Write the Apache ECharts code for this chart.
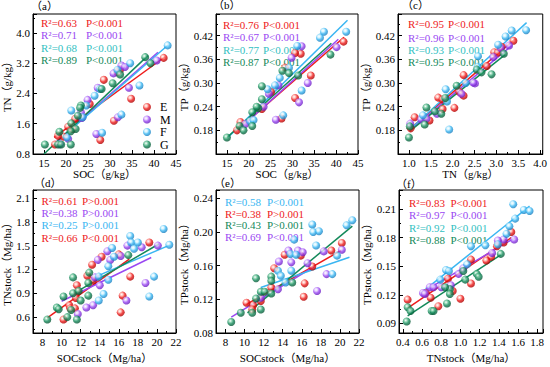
<!DOCTYPE html>
<html><head><meta charset="utf-8">
<script src="https://cdn.jsdelivr.net/npm/echarts@6/dist/echarts.min.js"></script>
<style>html,body{margin:0;padding:0;background:#fff}#c{width:550px;height:367px}</style>
</head><body><div id="c"></div>
<script>
// ---------------- DATA ----------------
const groups = ['E','M','F','G'];
// (a) SOC vs TN
const aE = [[42.2,3.34],[32.3,3.03],[31.7,2.96],[28.6,2.76],[25.4,2.12],[34.8,2.26],[30.9,1.68],[27.8,1.17],[22.1,1.73],[21.5,1.46],[20.5,1.52],[19.4,1.26],[18.2,1.28],[17.5,1.05]];
const aM = [[40.6,3.27],[32.6,3.14],[33.4,3.10],[30.8,2.93],[27.2,2.55],[34.3,2.55],[24.9,2.23],[23.4,1.90],[23.6,1.75],[31.8,1.77],[26.9,1.33],[20.5,1.20],[18.6,1.06]];
const aF = [[43.1,3.67],[34.6,3.20],[31.7,3.02],[26.5,2.34],[27.7,2.52],[36.7,2.61],[24.6,2.08],[21.2,1.95],[23.8,1.77],[32.6,1.84],[20.2,1.24],[28.2,1.36]];
const aG = [[38.0,3.36],[39.2,3.20],[32.3,2.90],[30.6,2.67],[28.1,2.52],[23.4,2.08],[23.2,2.02],[22.7,1.81],[21.2,1.61],[22.2,1.46],[21.1,1.40],[18.5,1.39],[15.2,1.05],[18.2,1.05],[18.9,1.05],[21.1,1.05]];
const aLineE = [[17.3,1.24],[42.5,3.37]];
const aLineM = [[17.8,1.12],[40.9,3.49]];
const aLineF = [[18.2,1.15],[43.2,3.68]];
const aLineG = [[15.0,0.80],[38.6,3.40]];
// (b) SOC vs TP
const bE = [[41.7,0.405],[31.9,0.374],[30.6,0.376],[28.3,0.339],[34.2,0.319],[25.1,0.277],[30.6,0.262],[23.0,0.234],[18.1,0.201],[27.5,0.210],[17.3,0.180]];
const bM = [[40.1,0.391],[32.1,0.393],[29.8,0.364],[26.8,0.294],[33.5,0.300],[24.6,0.273],[31.5,0.251],[23.4,0.240],[26.2,0.207],[19.2,0.196]];
const bF = [[42.3,0.430],[37.2,0.430],[36.3,0.415],[31.1,0.394],[29.2,0.339],[27.1,0.313],[26.0,0.294],[24.3,0.284],[32.1,0.281],[20.3,0.203],[21.1,0.206],[27.9,0.218]];
const bG = [[38.7,0.372],[27.7,0.331],[29.2,0.325],[31.3,0.319],[23.0,0.292],[23.0,0.259],[22.2,0.236],[21.8,0.240],[20.8,0.226],[20.8,0.191],[17.9,0.191],[18.8,0.180],[15.0,0.162]];
const bLineE = [[17.0,0.177],[41.8,0.416]];
const bLineM = [[17.5,0.180],[40.5,0.411]];
const bLineF = [[15.4,0.164],[42.6,0.459]];
const bLineG = [[15.0,0.162],[38.9,0.401]];
// (c) TN vs TP
const cE = [[3.39,0.407],[3.12,0.392],[2.95,0.378],[3.03,0.377],[2.78,0.343],[2.25,0.320],[2.15,0.278],[2.25,0.268],[1.67,0.263],[1.77,0.258],[2.04,0.237],[1.77,0.234],[1.47,0.205],[1.13,0.213],[1.04,0.185]];
const cM = [[3.29,0.395],[3.10,0.388],[2.93,0.366],[2.51,0.299],[2.47,0.301],[2.20,0.273],[1.64,0.222],[1.28,0.208],[1.03,0.197],[1.40,0.210]];
const cF = [[3.68,0.434],[3.35,0.433],[3.21,0.418],[3.04,0.397],[2.58,0.368],[2.57,0.341],[1.84,0.284],[1.87,0.253],[1.32,0.218],[1.92,0.182],[2.30,0.300]];
const cG = [[3.17,0.374],[2.89,0.322],[2.55,0.334],[2.66,0.327],[2.09,0.293],[1.83,0.262],[1.40,0.238],[1.74,0.222],[1.59,0.228],[1.36,0.195],[1.02,0.190],[1.00,0.162]];
const cLineE = [[1.02,0.183],[3.43,0.412]];
const cLineM = [[1.02,0.180],[3.35,0.395]];
const cLineF = [[1.02,0.182],[3.69,0.453]];
const cLineG = [[1.02,0.178],[3.20,0.372]];
// (d) SOCstock vs TNstock
const dE = [[19.2,1.54],[16.0,1.39],[14.2,1.36],[13.2,1.26],[12.7,1.12],[13.3,1.06],[17.2,1.11],[11.6,1.00],[11.7,0.92],[11.5,0.84],[10.8,0.75],[10.9,0.71],[11.4,0.71],[10.2,0.57],[16.4,0.87],[16.2,0.66]];
const dM = [[20.1,1.50],[18.4,1.48],[16.9,1.50],[16.2,1.37],[15.1,1.32],[14.8,1.43],[13.8,1.32],[13.5,1.10],[14.0,1.00],[13.3,0.75],[12.6,0.72],[11.7,0.64],[16.8,0.81],[18.8,1.03]];
const dF = [[20.7,1.71],[21.3,1.51],[17.2,1.62],[17.3,1.54],[18.0,1.54],[17.6,1.46],[15.3,1.47],[15.5,1.36],[14.9,1.24],[14.9,1.07],[13.9,1.11],[13.9,0.81],[14.4,0.89],[19.7,1.11],[19.2,0.86]];
const dG = [[8.5,0.57],[9.5,0.72],[9.7,0.70],[10.2,0.86],[10.6,0.60],[11.0,0.69],[11.2,0.90],[11.2,1.10],[11.6,0.57],[11.8,0.93],[12.0,0.81],[12.8,0.87],[12.8,1.03],[12.9,1.16],[17.0,1.38]];
const dLineE = [[8.5,0.59],[17.1,1.33]];
const dLineM = [[10.0,0.80],[19.4,1.35]];
const dLineF = [[13.6,1.11],[21.4,1.51]];
const dLineG = [[11.6,0.92],[20.2,1.52]];
// (e) SOCstock vs TPstock
const eE = [[20.2,0.187],[15.9,0.172],[14.2,0.173],[13.1,0.157],[17.1,0.159],[16.3,0.139],[16.2,0.123],[12.8,0.134],[11.7,0.118],[10.9,0.113],[10.2,0.116],[10.8,0.108],[19.1,0.178]];
const eM = [[20.2,0.179],[18.3,0.177],[15.6,0.178],[16.1,0.176],[14.6,0.178],[13.6,0.165],[14.9,0.164],[18.6,0.150],[17.6,0.130],[13.5,0.132],[11.7,0.122],[16.6,0.163]];
const eF = [[21.3,0.214],[20.7,0.208],[17.1,0.209],[17.2,0.200],[17.8,0.201],[15.2,0.191],[19.7,0.172],[17.5,0.184],[14.8,0.174],[15.4,0.173],[13.5,0.154],[14.9,0.154],[13.8,0.148],[14.3,0.140],[19.2,0.150]];
const eG = [[12.8,0.147],[12.8,0.142],[15.0,0.140],[11.2,0.145],[11.7,0.129],[12.1,0.129],[12.8,0.127],[11.2,0.121],[11.7,0.108],[10.8,0.104],[9.6,0.104],[8.6,0.093]];
const eLineE = [[10.2,0.114],[20.1,0.178]];
const eLineM = [[8.6,0.099],[17.3,0.159]];
const eLineF = [[11.7,0.134],[21.0,0.170]];
const eLineG = [[10.3,0.104],[21.3,0.207]];
// (f) TNstock vs TPstock
const fE = [[1.53,0.186],[1.38,0.171],[1.32,0.160],[1.27,0.156],[1.11,0.157],[0.87,0.137],[1.11,0.132],[0.92,0.124],[1.00,0.116],[0.64,0.122],[0.69,0.117],[0.45,0.115],[0.77,0.108],[1.45,0.175]];
const fM = [[1.56,0.178],[1.45,0.178],[1.39,0.177],[1.33,0.164],[1.03,0.148],[0.98,0.142],[0.90,0.130],[0.68,0.128],[0.72,0.128],[0.80,0.128],[0.61,0.122],[0.63,0.121]];
const fF = [[1.55,0.215],[1.57,0.200],[1.66,0.209],[1.72,0.208],[1.51,0.192],[1.48,0.184],[1.39,0.173],[1.26,0.172],[1.11,0.171],[1.07,0.152],[0.85,0.146],[0.88,0.145],[0.79,0.136]];
const fG = [[1.42,0.163],[1.17,0.142],[1.19,0.139],[1.05,0.136],[0.89,0.126],[0.89,0.121],[0.84,0.128],[0.70,0.103],[0.72,0.103],[0.86,0.111],[0.45,0.107],[0.48,0.103],[0.44,0.092],[1.03,0.145]];
const fLineE = [[0.45,0.106],[1.53,0.180]];
const fLineM = [[0.59,0.122],[1.57,0.180]];
const fLineF = [[0.59,0.122],[1.72,0.213]];
const fLineG = [[0.45,0.098],[1.42,0.162]];

// texts
const panelLabels = ['（a）','（b）','（c）','（d）','（e）','（f）'];
const xNames = ['SOC（g/kg）','SOC（g/kg）','TN（g/kg）','SOCstock（Mg/ha）','SOCstock（Mg/ha）','TNstock（Mg/ha）'];
const yNames = ['TN（g/kg）','TP（g/kg）','TP（g/kg）','TNstock（Mg/ha）','TPstock（Mg/ha）','TPstock（Mg/ha）'];
const statsA = [['R²=0.63','P<0.001'],['R²=0.71','P<0.001'],['R²=0.68','P<0.001'],['R²=0.89','P<0.001']];
const statsB = [['R²=0.76','P<0.001'],['R²=0.67','P<0.001'],['R²=0.77','P<0.001'],['R²=0.87','P<0.001']];
const statsC = [['R²=0.95','P<0.001'],['R²=0.96','P<0.001'],['R²=0.93','P<0.001'],['R²=0.95','P<0.001']];
const statsD = [['R²=0.61','P>0.001'],['R²=0.38','P>0.001'],['R²=0.25','P>0.001'],['R²=0.66','P<0.001']];
const statsE = [['R²=0.58','P<0.001'],['R²=0.38','P>0.001'],['R²=0.43','P>0.001'],['R²=0.69','P<0.001']];
const statsF = [['R²=0.83','P<0.001'],['R²=0.97','P<0.001'],['R²=0.92','P<0.001'],['R²=0.88','P<0.001']];

// ---------------- STYLE ----------------
const FONT = '"Liberation Serif", "Noto Sans CJK SC", serif';
const COL = {E:'#ee1b1b', M:'#9a48f2', F:'#3ab6f2', G:'#13895a'};
const LIGHT = {E:'#ffb0a8', M:'#e0c4ff', F:'#c8f0ff', G:'#7fd0a8'};
const DARK = {E:'#b00000', M:'#6a1fc0', F:'#1a80c0', G:'#0a5a38'};
const TEAL = '#33bfc2', BLUE = '#3ab6f2';
const statColors = [
  [COL.E, COL.M, TEAL, COL.G],
  [COL.E, COL.M, TEAL, COL.G],
  [COL.E, COL.M, TEAL, COL.G],
  [COL.E, COL.M, BLUE, COL.E],
  [BLUE, COL.E, COL.G, COL.M],
  [COL.E, COL.M, TEAL, COL.G]
];
const statPos = [
  {rx:41, px:86, ys:[24,36,48.5,61]},
  {rx:223, px:263, ys:[25.5,38,51,63]},
  {rx:408, px:448, ys:[25,38.5,50.5,62.5]},
  {rx:41.5, px:82, ys:[201.5,214,226,238.5]},
  {rx:225, px:267, ys:[203,214.5,226,237.5]},
  {rx:409, px:450.5, ys:[204,216,229,241]}
];
const labelPos = [[31,7],[213,6],[402,6],[34,184],[214,184],[396,185]];
const grids = [
  {left:33, top:14, width:143, height:140},
  {left:216, top:14, width:142, height:140},
  {left:398, top:14, width:145, height:140},
  {left:33, top:190, width:143, height:143},
  {left:216, top:190, width:143, height:143},
  {left:399, top:190, width:144, height:143}
];
const xCfg = [
  {min:12.5, max:45, split:6, step:5, from:15, dec:0, gap:14},
  {min:12.5, max:45, split:6, step:5, from:15, dec:0, gap:14},
  {min:0.75, max:4.06, split:7, step:0.5, from:1, dec:1, gap:14},
  {min:7, max:22, split:7, step:2, from:8, dec:0, gap:19},
  {min:7, max:22, split:7, step:2, from:8, dec:0, gap:19},
  {min:0.36, max:1.86, split:7, step:0.2, from:0.4, dec:1, gap:19}
];
const yCfg = [
  {min:0.8, max:4.5, interval:0.8, step:0.8, from:0.8, dec:1, gap:20},
  {min:0.12, max:0.475, interval:0.06, step:0.06, from:0.18, dec:2, gap:22},
  {min:0.12, max:0.475, interval:0.06, step:0.06, from:0.18, dec:2, gap:22},
  {min:0.4, max:2.2, split:6, step:0.3, from:0.6, dec:1, gap:20},
  {min:0.08, max:0.25, interval:0.04, step:0.04, from:0.08, dec:2, gap:25},
  {min:0.08, max:0.23, split:5, step:0.03, from:0.09, dec:2, gap:25}
];

function lab(step, from, dec){
  return function(v){
    const k = v/step;
    if (Math.abs(k-Math.round(k))>1e-6 || v < from-1e-9) return '';
    return v.toFixed(dec);
  };
}
function mkAxis(gi, c, name){
  const a = {
    type:'value', gridIndex:gi, min:c.min, max:c.max,
    name:name, nameLocation:'middle', nameGap:c.gap,
    nameTextStyle:{fontFamily:FONT, fontSize:11, color:'#000'},
    axisLine:{show:true, onZero:false, lineStyle:{color:'#000', width:1}},
    axisTick:{show:true, inside:true, length:4, lineStyle:{color:'#000', width:1}},
    minorTick:{show:true, splitNumber:2, length:2, lineStyle:{color:'#000', width:1}},
    splitLine:{show:false}, minorSplitLine:{show:false},
    axisLabel:{fontFamily:FONT, fontSize:11, color:'#000', margin:3, formatter:lab(c.step,c.from,c.dec)}
  };
  if (c.interval) a.interval = c.interval; else a.splitNumber = c.split;
  return a;
}
function ball(g){
  return {type:'radial', x:0.38, y:0.35, r:0.65, colorStops:[
    {offset:0, color:'#ffffff'},{offset:0.28, color:LIGHT[g]},{offset:0.6, color:COL[g]},{offset:1, color:DARK[g]}]};
}

const pts = [[aE,aM,aF,aG],[bE,bM,bF,bG],[cE,cM,cF,cG],[dE,dM,dF,dG],[eE,eM,eF,eG],[fE,fM,fF,fG]];
const lines = [[aLineE,aLineM,aLineF,aLineG],[bLineE,bLineM,bLineF,bLineG],[cLineE,cLineM,cLineF,cLineG],
               [dLineE,dLineM,dLineF,dLineG],[eLineE,eLineM,eLineF,eLineG],[fLineE,fLineM,fLineF,fLineG]];
const stats = [statsA,statsB,statsC,statsD,statsE,statsF];

const series = [], xAxis = [], yAxis = [], graphic = [];
for (let p=0; p<6; p++){
  xAxis.push(mkAxis(p, xCfg[p], xNames[p]));
  yAxis.push(mkAxis(p, yCfg[p], yNames[p]));
  groups.forEach((g,i)=>{
    series.push({type:'line', name:g+'-fit', xAxisIndex:p, yAxisIndex:p, data:lines[p][i],
      showSymbol:false, symbol:'none', lineStyle:{color:COL[g], width:1.5}, z:2, silent:true});
  });
  groups.forEach((g,i)=>{
    series.push({type:'scatter', name:g, xAxisIndex:p, yAxisIndex:p, data:pts[p][i],
      symbol:'circle', symbolSize:8, itemStyle:{color:ball(g)}, z:3});
  });
  stats[p].forEach((row,r)=>{
    const sp = statPos[p];
    graphic.push({type:'text', left:sp.rx, top:sp.ys[r]-6.5, style:{text:row[0], fill:statColors[p][r], font:'11px '+FONT}});
    graphic.push({type:'text', left:sp.px, top:sp.ys[r]-6.5, style:{text:row[1], fill:statColors[p][r], font:'11px '+FONT}});
  });
  graphic.push({type:'text', left:labelPos[p][0], top:labelPos[p][1]-6.5, style:{text:panelLabels[p], fill:'#000', font:'11px '+FONT}});
}

const chart = echarts.init(document.getElementById('c'), null, {renderer:'svg'});
chart.setOption({
  animation:false,
  backgroundColor:'#fff',
  grid: grids.map(g=>Object.assign({show:true, borderColor:'#000', borderWidth:1, backgroundColor:'transparent'}, g)),
  xAxis, yAxis, series, graphic,
  legend:{data:groups, left:143, top:101, orient:'vertical', itemWidth:8, itemHeight:8, itemGap:0.5, padding:0,
    icon:'circle', selectedMode:false,
    textStyle:{fontFamily:FONT, fontSize:12, lineHeight:12, color:'#000', padding:[0,0,0,4]}}
});
</script></body></html>
